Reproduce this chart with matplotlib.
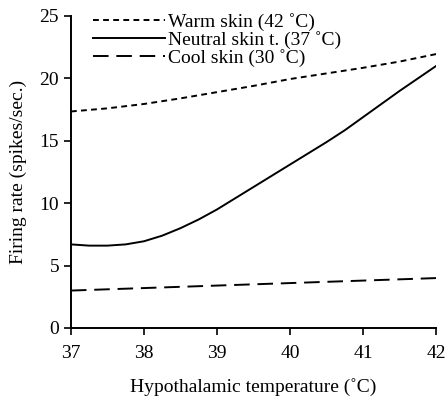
import matplotlib
matplotlib.use("Agg")
import matplotlib.pyplot as plt

plt.rcParams['font.family'] = ['Liberation Serif', 'DejaVu Serif']

temp_warm = [37, 37.5, 38, 38.5, 39, 39.5, 40, 40.5, 41, 41.5, 42]
warm = [17.35, 17.6, 17.95, 18.4, 18.9, 19.4, 19.95, 20.4, 20.85, 21.35, 21.95]

temp_neutral = [37, 37.25, 37.5, 37.75, 38, 38.25, 38.5, 38.75, 39, 39.25, 39.5, 39.75, 40, 40.25, 40.5, 40.75, 41, 41.25, 41.5, 41.75, 42]
neutral = [6.7, 6.6, 6.6, 6.7, 6.95, 7.4, 8.0, 8.7, 9.5, 10.4, 11.3, 12.2, 13.1, 14.0, 14.9, 15.85, 16.9, 17.95, 19.0, 20.0, 21.0]

temp_cool = [37, 38, 39, 40, 41, 42]
cool = [3.0, 3.2, 3.4, 3.6, 3.8, 4.0]

labels = ['Warm skin (42 ˚C)', 'Neutral skin t. (37 ˚C)', 'Cool skin (30 ˚C)']
xticks = [37, 38, 39, 40, 41, 42]
yticks = [0, 5, 10, 15, 20, 25]

fig = plt.figure(figsize=(4.46, 4.0), dpi=100)
ax = fig.add_axes([0.159, 0.18, 0.819, 0.78])

ax.plot(temp_warm, warm, color='black', lw=1.4, dashes=(3.0, 2.2), label=labels[0])
ax.plot(temp_neutral, neutral, color='black', lw=1.4, label=labels[1])
ax.plot(temp_cool, cool, color='black', lw=1.4, dashes=(8, 4), label=labels[2])

ax.set_xlim(37, 42)
ax.set_ylim(0, 25)
ax.set_xticks(xticks)
ax.set_yticks(yticks)
ax.spines['top'].set_visible(False)
ax.spines['right'].set_visible(False)
ax.spines['left'].set_linewidth(1.4)
ax.spines['bottom'].set_linewidth(1.4)
ax.tick_params(direction='out', length=5, width=1.2, labelsize=14)
ax.tick_params(axis='x', pad=7)

ax.set_xlabel('Hypothalamic temperature (˚C)', fontsize=14, labelpad=12)
ax.set_ylabel('Firing rate (spikes/sec.)', fontsize=14, labelpad=9)

leg = ax.legend(loc='upper left', bbox_to_anchor=(0.038, 1.035), frameon=False,
                fontsize=14, handlelength=3.7, handletextpad=0.2,
                labelspacing=0.0, borderaxespad=0)

fig.savefig('out.png', dpi=100)
